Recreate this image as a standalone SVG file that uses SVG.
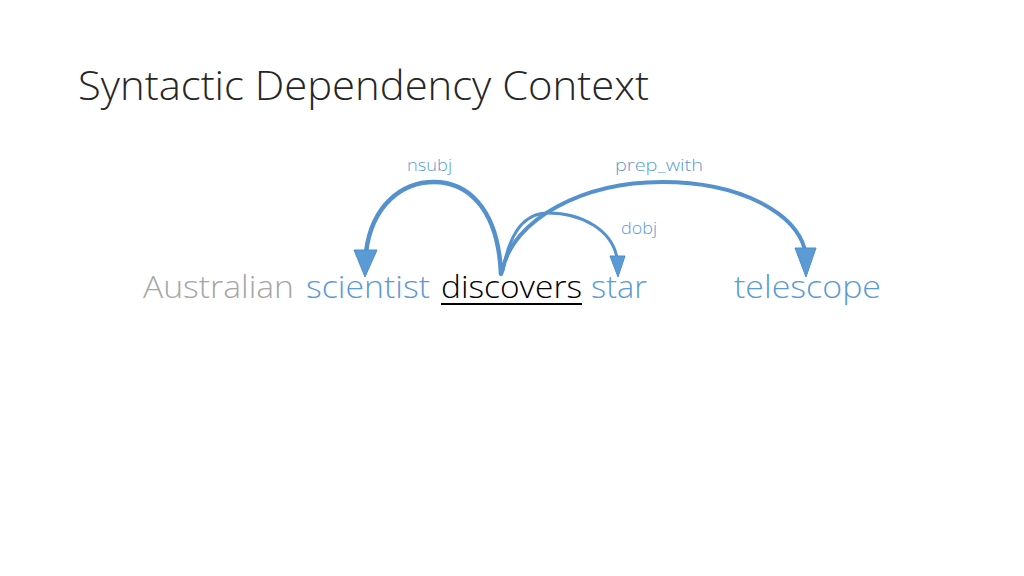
<svg xmlns="http://www.w3.org/2000/svg" width="1024" height="576" viewBox="0 0 1024 576">
<style>
.t{font-family:"Open Sans","Liberation Sans",sans-serif;font-weight:300}
.w{font-size:32px}
.b{fill:#5B9BD5}
.lbl{font-size:16px;fill:#5B9BD5}
.arc{fill:none;stroke:#5592CD;stroke-linecap:round}
.head{fill:#5B9BD5;stroke:#4F8DCB;stroke-width:1}
</style>
<rect width="1024" height="576" fill="#FFFFFF"/>
<g id="title"><text class="t" x="78" y="100" font-size="40" fill="#262626" textLength="571" lengthAdjust="spacingAndGlyphs">Syntactic Dependency Context</text></g>
<g id="australian"><text class="t w" x="143" y="298" fill="#A6A6A6" textLength="151" lengthAdjust="spacingAndGlyphs">Australian</text></g>
<g id="scientist"><text class="t w b" x="306" y="298" textLength="124" lengthAdjust="spacingAndGlyphs">scientist</text></g>
<g id="discovers"><text class="t w" x="441" y="298" fill="#000000" textLength="141" lengthAdjust="spacingAndGlyphs">discovers</text><line x1="441" y1="304" x2="582" y2="304" stroke="#000000" stroke-width="2"/></g>
<g id="star"><text class="t w b" x="591" y="298" textLength="56" lengthAdjust="spacingAndGlyphs">star</text></g>
<g id="telescope"><text class="t w b" x="734" y="298" textLength="147" lengthAdjust="spacingAndGlyphs">telescope</text></g>
<g id="connectors">
<path class="arc" stroke-width="4.5" d="M 501 274 C 498 205, 465 182, 434 182 C 402 182, 372 205, 366 252"/>
<polygon class="head" points="354,250 377,250 365,277"/>
<path class="arc" stroke-width="4" d="M 502 272 C 512 218, 585 182, 662 182 C 742 182, 796 214, 805 250"/>
<polygon class="head" points="795,248 816,248 806,277"/>
<path class="arc" stroke-width="3" d="M 503 270 C 510 230, 526 213, 548 213 C 582 213, 612 230, 617 258"/>
<polygon class="head" points="610,256 625,256 618,277"/>
<text class="t lbl" x="407" y="171" textLength="45" lengthAdjust="spacingAndGlyphs">nsubj</text>
<text class="t lbl" x="615" y="171" textLength="88" lengthAdjust="spacingAndGlyphs">prep_with</text>
<text class="t lbl" x="621" y="234" textLength="36" lengthAdjust="spacingAndGlyphs">dobj</text>
</g>
</svg>
